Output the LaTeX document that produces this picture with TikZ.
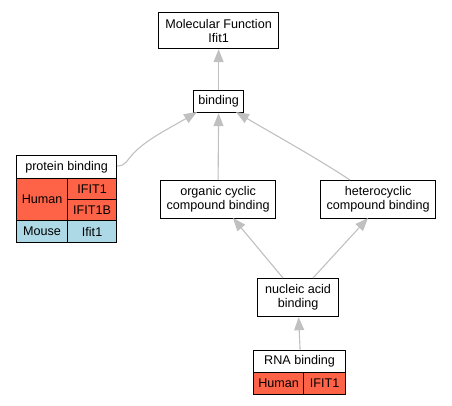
\documentclass[tikz,border=0pt]{standalone}
\usepackage{fontspec}
\setmainfont{Liberation Sans}
\usetikzlibrary{arrows.meta}
\definecolor{edgec}{HTML}{C0C0C0}
\definecolor{hum}{HTML}{FF6347}
\definecolor{mou}{HTML}{ADD8E6}
\begin{document}
\begin{tikzpicture}[x=1pt,y=-1pt,
  box/.style={draw=black,line width=1.2pt,fill=white,inner sep=0pt,align=center,font=\fontsize{12.6}{14}\selectfont},
  cell/.style={box,anchor=north west},
  edge/.style={draw=edgec,line width=1.1pt,-{Triangle[width=10pt,length=13pt,fill=edgec]}}]
\useasboundingbox (0,0) rectangle (452,405);
% nodes
\node[cell,minimum width=120pt,minimum height=36pt] (mf) at (158,12) {Molecular Function\\Ifit1};
\node[cell,minimum width=50pt,minimum height=22pt] (bind) at (193,90) {binding};
\node[cell,minimum width=115pt,minimum height=38pt] (org) at (160,180) {organic cyclic\\compound binding};
\node[cell,minimum width=115pt,minimum height=38pt] (het) at (320,180) {heterocyclic\\compound binding};
\node[cell,minimum width=81pt,minimum height=38pt] (nuc) at (257,278) {nucleic acid\\binding};
% protein binding table
\node[cell,minimum width=100pt,minimum height=23pt] (pb) at (16,155) {protein binding};
\node[cell,fill=hum,minimum width=51pt,minimum height=42pt] (pbh) at (16,178) {Human};
\node[cell,fill=hum,minimum width=49pt,minimum height=21pt] (pbh1) at (67,178) {IFIT1};
\node[cell,fill=hum,minimum width=49pt,minimum height=21pt] (pbh2) at (67,199) {IFIT1B};
\node[cell,fill=mou,minimum width=51pt,minimum height=22pt] (pbm) at (16,220) {Mouse};
\node[cell,fill=mou,minimum width=49pt,minimum height=22pt] (pbm1) at (67,220) {Ifit1};
% RNA binding table
\node[cell,minimum width=92pt,minimum height=22pt] (rna) at (253,350) {RNA binding};
\node[cell,fill=hum,minimum width=50pt,minimum height=22pt] (rnah) at (253,372) {Human};
\node[cell,fill=hum,minimum width=42pt,minimum height=22pt] (rnah1) at (303,372) {IFIT1};
% edges
\coordinate (hetin) at (350,180);
\coordinate (bindr) at (236,112);
\coordinate (bindl) at (197,112);
\coordinate (pbout) at (117,166);
\coordinate (nucl) at (283,278);
\coordinate (nucr) at (313,278);
\coordinate (orgin) at (233,218);
\coordinate (hetout) at (368,218);
\draw[edge] (bind.north) -- (mf.south);
\draw[edge] (org.north) -- (bind.south);
\draw[edge] (hetin) .. controls (320,160) and (270,132) .. (bindr);
\draw[edge] (pbout) .. controls (126,166) and (127,160) .. (132,155) .. controls (145,140) and (170,128) .. (bindl);
\draw[edge] (nucl) -- (orgin);
\draw[edge] (nucr) -- (hetout);
\draw[edge] ([xshift=0.5pt]rna.north) -- ([xshift=0.5pt]nuc.south);
\end{tikzpicture}
\end{document}
